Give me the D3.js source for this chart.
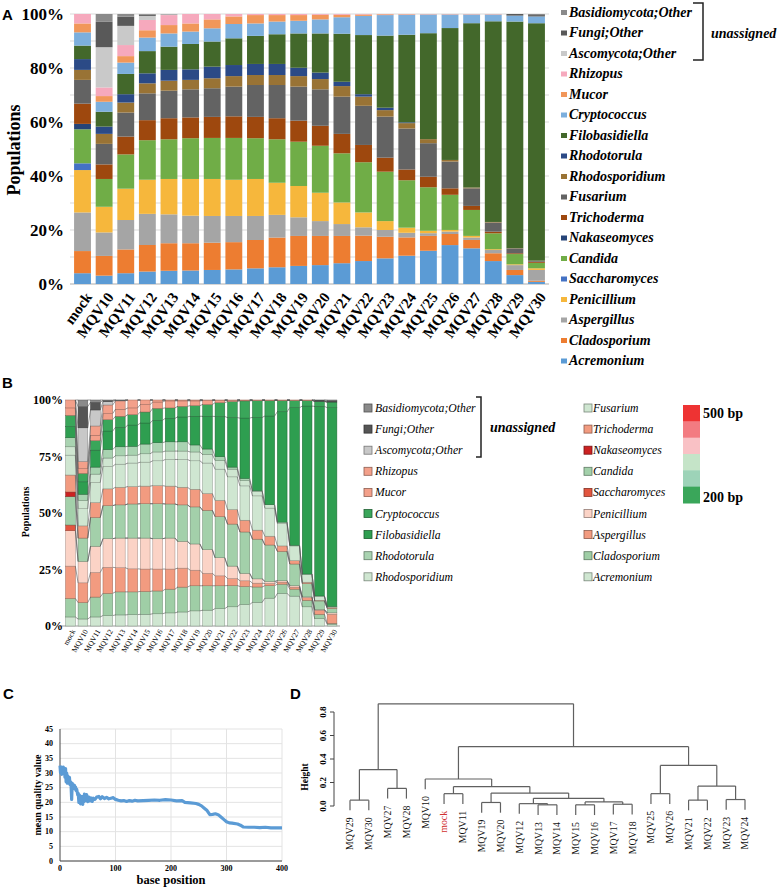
<!DOCTYPE html>
<html><head><meta charset="utf-8">
<script src="https://cdn.jsdelivr.net/npm/d3@7"></script>
<style>body{margin:0;background:#fff}svg{display:block}</style>
</head><body><svg id="c" width="779" height="889"></svg>
<script>
// ---------- DATA ----------
const samples = ["mock","MQV10","MQV11","MQV12","MQV13","MQV14","MQV15","MQV16","MQV17","MQV18","MQV19","MQV20","MQV21","MQV22","MQV23","MQV24","MQV25","MQV26","MQV27","MQV28","MQV29","MQV30"];
const taxa = ["Acremonium","Cladosporium","Aspergillus","Penicillium","Saccharomyces","Candida","Nakaseomyces","Trichoderma","Fusarium","Rhodosporidium","Rhodotorula","Filobasidiella","Cryptococcus","Mucor","Rhizopus","Ascomycota;Other","Fungi;Other","Basidiomycota;Other"];
const acremonium     = [4.0,3.1,4.0,4.6,4.9,5.0,5.2,5.4,5.8,6.2,6.7,7.0,7.7,8.5,9.5,10.5,12.3,14.4,13.2,8.5,3.3,0.8];
const cladosporium   = [8.2,7.3,8.8,9.8,10.2,10.1,10.1,10.1,10.5,11.0,11.1,10.8,10.1,9.4,8.0,6.8,5.5,4.1,3.1,2.9,1.9,0.4];
const aspergillus    = [14.3,8.7,10.9,11.5,10.7,10.2,9.9,9.7,8.9,8.4,6.9,5.5,4.4,3.1,2.5,1.7,1.0,0.9,0.9,1.2,1.8,4.0];
const penicillium    = [15.7,9.5,11.6,12.6,13.1,13.6,13.7,13.4,13.7,11.9,11.6,10.5,8.0,5.5,3.3,1.9,0.9,0.6,0.6,0.3,0.3,0.6];
const saccharomyces  = [2.5,0,0,0,0,0,0,0,0,0,0,0,0,0,0,0,0,0,0,0,0,0];
const candida        = [12.6,10.3,12.7,14.6,14.7,15.1,15.2,15.5,15.1,16.1,16.4,17.4,18.2,18.6,18.3,17.6,16.1,13.0,9.6,5.9,3.8,2.0];
const nakaseomyces   = [2.0,0,0,0,0,0,0,0,0,0,0,0,0,0,0,0,0,0,0,0,0,0];
const trichoderma    = [7.5,5.4,6.6,7.4,7.8,7.7,7.8,8.0,7.9,7.8,7.8,7.4,7.2,6.4,5.2,4.0,3.9,2.4,1.5,0.6,0.3,0.4];
const fusarium       = [8.8,7.6,8.9,9.9,10.2,10.4,10.6,11.0,11.8,12.3,12.6,13.5,13.8,14.5,15.2,15.2,12.4,9.9,6.5,3.4,1.8,0.3];
const rhodosporidium = [3.7,3.7,3.7,3.7,3.7,3.5,3.7,3.9,3.7,3.7,3.9,3.8,3.9,3.4,2.4,2.0,1.5,0.6,0.3,0.2,0.1,0.1];
const rhodotorula    = [4.0,2.7,3.1,3.7,4.0,3.9,4.3,4.1,4.1,4.1,3.1,2.4,1.6,0.9,0.9,0.3,0,0,0,0,0,0];
const filobasidiella = [5.0,5.5,7.5,8.2,8.6,9.4,9.3,9.9,10.4,11.0,12.7,14.5,17.8,21.9,26.7,32.5,39.2,48.8,60.8,74.4,84.0,87.5];
const cryptococcus   = [4.9,3.7,4.2,5.0,4.9,4.6,4.9,5.3,4.6,4.7,4.7,5.2,6.1,7.1,7.6,7.4,6.9,5.0,3.2,2.5,2.2,2.5];
const mucor          = [3.3,2.1,2.4,2.7,3.1,3.0,3.3,2.8,3.1,2.4,2.1,1.7,0.9,0.5,0.3,0.2,0.1,0.1,0.1,0.1,0,0];
const rhizopus       = [3.5,3.2,4.1,3.8,3.7,3.5,2.0,0.9,0.4,0.4,0.4,0.3,0.3,0.2,0.1,0.1,0.1,0.1,0.1,0.1,0,0];
const ascomycotaOther    = [0,14.9,7.1,1.5,0.3,0,0,0,0,0,0,0,0,0,0,0,0,0,0,0,0,0];
const fungiOther         = [0,9.4,3.4,0.5,0.1,0,0,0,0,0,0,0,0,0,0,0,0,0,0,0,0.6,0.5];
const basidiomycotaOther = [0,2.9,1.0,0.2,0,0,0,0,0,0,0,0,0,0,0,0,0,0,0,0,0,0.4];
const seriesValues = [acremonium,cladosporium,aspergillus,penicillium,saccharomyces,candida,nakaseomyces,trichoderma,fusarium,rhodosporidium,rhodotorula,filobasidiella,cryptococcus,mucor,rhizopus,ascomycotaOther,fungiOther,basidiomycotaOther];

const colorsA = ["#5b9bd5","#ed7d31","#a5a5a5","#f6b73c","#4472c4","#70ad47","#264478","#9e480e","#636363","#997335","#2b4a86","#43682b","#7cafdd","#f1975a","#f6a9bd","#c9c9c9","#595959","#8a8a8a"];
const colorsB = ["#cfe6d1","#9fcea6","#f29b80","#fbd3c6","#e2553f","#a3d0aa","#cc2222","#f29b80","#cfe6d1","#cfe6d1","#a9d3b1","#2e9e50","#3aa65a","#f3a08a","#f3a08a","#c8c8c8","#555555","#8a8a8a"];
const scaleColors = ["#ee3333","#f37b81","#f9c1c5","#c5e4c8","#9dd3b8","#3aa65a"];
const scaleLabels = ["500 bp","200 bp"];

const yTicksA = [0,0.2,0.4,0.6,0.8,1.0];
const yTicksB = [0,0.25,0.5,0.75,1.0];

// Panel C: mean quality by base position
const qPos = [0,1,2,3,4,5,6,7,8,9,10,11,12,13,14,15,16,17,18,19,20,21,22,23,24,25,26,27,28,29,30,31,32,33,34,35,36,37,38,39,40,41,42,43,44,45,46,47,48,49,50,52,54,56,58,60,63,66,70,73,76,80,84,88,92,96,100,105,110,115,120,125,130,135,140,150,160,170,180,190,200,210,220,225,235,245,250,255,260,265,270,275,280,285,290,295,300,305,310,320,325,330,340,350,360,370,380,390,400];
const qVal = [32.5,30,32,29.5,31.5,30.5,32,29.8,31,28.5,31.5,27,30,26.5,29,27.5,26.5,28.5,26,27,25.5,21,26.5,25.5,26,25,25.8,24.5,25.2,24,24.5,23.5,22.5,23,20,22.5,21.5,19.5,22,20.5,21.5,19.3,22,20.2,22.8,20.5,22.5,21,22.6,21.3,20.2,21.8,20.5,21.5,20.3,21.4,21,21.8,22,21.2,21.9,21.3,21.7,21.2,21.4,21.6,21,20.7,20.5,20.6,20.3,20.6,20.4,20.7,20.5,20.6,20.7,20.8,20.7,20.9,20.8,20.5,20.6,20.0,19.8,19.6,19.3,18.8,18.0,17.2,15.8,15.9,16.1,15.8,15.0,14.2,13.4,13.0,12.9,12.6,12.2,11.6,11.5,11.5,11.4,11.5,11.3,11.3,11.3];
const qXTicks = [0,100,200,300,400];
const qYTicks = [0,5,10,15,20,25,30,35,40,45];

// Panel D: dendrogram (merge heights)
const tree = {h:0.87, children:[
  {h:0.31, children:[{h:0.05, children:[{name:"MQV29"},{name:"MQV30"}]},{h:0.15, children:[{name:"MQV27"},{name:"MQV28"}]}]},
  {h:0.505, children:[
    {h:0.23, children:[{name:"MQV10"},
      {h:0.165, children:[
        {h:0.105, children:[{name:"mock"},{name:"MQV11"}]},
        {h:0.11, children:[
          {h:0.03, children:[{name:"MQV19"},{name:"MQV20"}]},
          {h:0.065, children:[
            {h:0.02, children:[{name:"MQV12"},{h:0.01, children:[{name:"MQV13"},{name:"MQV14"}]}]},
            {h:0.035, children:[{h:0.01, children:[{name:"MQV15"},{name:"MQV16"}]},{h:0.015, children:[{name:"MQV17"},{name:"MQV18"}]}]}
          ]}
        ]}
      ]}
    ]},
    {h:0.345, children:[
      {h:0.105, children:[{name:"MQV25"},{name:"MQV26"}]},
      {h:0.17, children:[{h:0.05, children:[{name:"MQV21"},{name:"MQV22"}]},{h:0.055, children:[{name:"MQV23"},{name:"MQV24"}]}]}
    ]}
  ]}
]};
const dTicks = [0,0.2,0.4,0.6,0.8];
const hang = 0.087;

// ---------- BUILD ----------
const rows = samples.map((s,i)=>{const r={sample:s}; taxa.forEach((t,j)=>r[t]=seriesValues[j][i]); return r;});
const stacked = d3.stack().keys(taxa).offset(d3.stackOffsetExpand)(rows);

const svg = d3.select("#c");
svg.append("rect").attr("width",779).attr("height",889).attr("fill","#fff");
const SERIF = "'Liberation Serif','Times New Roman',serif";
const SANS = "'Liberation Sans',Arial,sans-serif";

function panelLetter(t,x,y){svg.append("text").attr("x",x).attr("y",y).attr("font-family",SANS).attr("font-weight","bold").attr("font-size",15).text(t);}

// ---------- PANEL A ----------
{
  const x = d3.scaleBand().domain(samples).range([71.7,547.3]).paddingInner(0.22).paddingOuter(0.11);
  const y = d3.scaleLinear().domain([0,1]).range([284,14]);
  const g = svg.append("g");
  g.selectAll("line.grid").data(y.ticks(10)).join("line")
    .attr("x1",70).attr("x2",549).attr("y1",d=>y(d)).attr("y2",d=>y(d))
    .attr("stroke","#d9d9d9").attr("stroke-width",1);
  g.append("line").attr("x1",70).attr("x2",549).attr("y1",y(0)).attr("y2",y(0)).attr("stroke","#bfbfbf");
  stacked.forEach((layer,j)=>{
    g.append("g").attr("fill",colorsA[j]).selectAll("rect").data(layer).join("rect")
      .attr("x",d=>x(d.data.sample)).attr("width",x.bandwidth())
      .attr("y",d=>y(d[1])).attr("height",d=>Math.max(0,y(d[0])-y(d[1])));
  });
  g.selectAll("text.yt").data(yTicksA).join("text")
    .attr("x",64).attr("y",d=>y(d)).attr("dy","0.35em").attr("text-anchor","end")
    .attr("font-family",SERIF).attr("font-weight","bold").attr("font-size",17)
    .text(d=>d3.format(".0%")(d));
  g.append("text").attr("transform","translate(20,150) rotate(-90)").attr("text-anchor","middle")
    .attr("font-family",SERIF).attr("font-weight","bold").attr("font-size",18).text("Populations");
  g.selectAll("text.xl").data(samples).join("text")
    .attr("transform",d=>`translate(${x(d)+x.bandwidth()/2+6},${294}) rotate(-54)`)
    .attr("text-anchor","end").attr("dy","0.35em")
    .attr("font-family",SERIF).attr("font-weight","bold").attr("font-size",15).text(d=>d);
  // legend
  const leg = g.append("g");
  const order = taxa.slice().reverse();
  order.forEach((t,i)=>{
    const yy = 12 + i*20.5;
    leg.append("rect").attr("x",561).attr("y",yy-2).attr("width",6).attr("height",5).attr("fill",colorsA[taxa.indexOf(t)]);
    leg.append("text").attr("x",569).attr("y",yy).attr("dy","0.35em")
      .attr("font-family",SERIF).attr("font-weight","bold").attr("font-style","italic").attr("font-size",14).text(t);
  });
  leg.append("path").attr("d","M693,3H703V60H693").attr("fill","none").attr("stroke","#222").attr("stroke-width",1.5);
  leg.append("text").attr("x",711).attr("y",33).attr("dy","0.35em")
    .attr("font-family",SERIF).attr("font-weight","bold").attr("font-style","italic").attr("font-size",14).text("unassigned");
  panelLetter("A",2,20);
}

// ---------- PANEL B ----------
{
  const x = d3.scaleBand().domain(samples).range([64.25,338.25]).paddingInner(0.22).paddingOuter(0.11);
  const y = d3.scaleLinear().domain([0,1]).range([626,400]);
  const g = svg.append("g");
  g.append("line").attr("x1",60).attr("x2",340).attr("y1",y(0)).attr("y2",y(0)).attr("stroke","#999");
  stacked.forEach((layer,j)=>{
    const c = colorsB[j];
    g.append("g").attr("fill",c).attr("stroke",d3.color(c).darker(1.2)).attr("stroke-width",0.5)
      .selectAll("rect").data(layer.filter(d=>d[1]-d[0]>0.0005)).join("rect")
      .attr("x",d=>x(d.data.sample)).attr("width",x.bandwidth())
      .attr("y",d=>y(d[1])).attr("height",d=>Math.max(0,y(d[0])-y(d[1])));
  });
  // series connector lines
  stacked.forEach(layer=>{
    for(let i=0;i<layer.length-1;i++){
      const a=layer[i], b=layer[i+1];
      g.append("line").attr("x1",x(a.data.sample)+x.bandwidth()).attr("y1",y(a[1]))
        .attr("x2",x(b.data.sample)).attr("y2",y(b[1])).attr("stroke","#555").attr("stroke-width",0.6);
    }
  });
  g.selectAll("text.yt").data(yTicksB).join("text")
    .attr("x",63).attr("y",d=>y(d)).attr("dy","0.35em").attr("text-anchor","end")
    .attr("font-family",SERIF).attr("font-weight","bold").attr("font-size",12)
    .text(d=>d3.format(".0%")(d));
  g.append("text").attr("transform","translate(29,512) rotate(-90)").attr("text-anchor","middle")
    .attr("font-family",SERIF).attr("font-weight","bold").attr("font-size",10).text("Populations");
  g.selectAll("text.xl").data(samples).join("text")
    .attr("transform",d=>`translate(${x(d)+x.bandwidth()/2+3},${630}) rotate(-60)`)
    .attr("text-anchor","end").attr("dy","0.35em")
    .attr("font-family",SERIF).attr("font-size",7.5).text(d=>d);
  const order = taxa.slice().reverse();
  order.forEach((t,i)=>{
    const col = i<9?0:1, r = i%9;
    const yy = 408 + r*21.1;
    const mx = col? 584:364, tx = col?593:375;
    const c = colorsB[taxa.indexOf(t)];
    g.append("rect").attr("x",mx).attr("y",yy-4).attr("width",8).attr("height",8).attr("fill",c).attr("stroke",d3.color(c).darker(1.5)).attr("stroke-width",0.8);
    g.append("text").attr("x",tx).attr("y",yy).attr("dy","0.35em")
      .attr("font-family",SERIF).attr("font-style","italic").attr("font-size",11.7).text(t);
  });
  g.append("path").attr("d","M476,397H481V457H476").attr("fill","none").attr("stroke","#222").attr("stroke-width",1.5);
  g.append("text").attr("x",490).attr("y",427).attr("dy","0.35em")
    .attr("font-family",SERIF).attr("font-weight","bold").attr("font-style","italic").attr("font-size",14).text("unassigned");
  const cy = d3.scaleBand().domain(d3.range(scaleColors.length)).range([405,503]);
  g.selectAll("rect.sc").data(scaleColors).join("rect")
    .attr("x",683).attr("width",17).attr("y",(d,i)=>cy(i)).attr("height",cy.bandwidth()+0.5).attr("fill",d=>d);
  g.append("text").attr("x",703).attr("y",413).attr("dy","0.35em").attr("font-family",SERIF).attr("font-weight","bold").attr("font-size",14).text(scaleLabels[0]);
  g.append("text").attr("x",703).attr("y",497).attr("dy","0.35em").attr("font-family",SERIF).attr("font-weight","bold").attr("font-size",14).text(scaleLabels[1]);
  panelLetter("B",2,388);
}

// ---------- PANEL C ----------
{
  const x = d3.scaleLinear().domain([0,400]).range([60,282]);
  const y = d3.scaleLinear().domain([0,45]).range([861,729]);
  const g = svg.append("g");
  g.selectAll("line.hg").data(qYTicks).join("line").attr("x1",60).attr("x2",282).attr("y1",d=>y(d)).attr("y2",d=>y(d)).attr("stroke","#e3e3e3");
  g.selectAll("line.vg").data(qXTicks.slice(1)).join("line").attr("y1",729).attr("y2",861).attr("x1",d=>x(d)).attr("x2",d=>x(d)).attr("stroke","#e3e3e3");
  g.append("line").attr("x1",60).attr("x2",282).attr("y1",861).attr("y2",861).attr("stroke","#444").attr("stroke-width",1);
  g.append("line").attr("x1",60).attr("x2",60).attr("y1",729).attr("y2",861).attr("stroke","#444").attr("stroke-width",1);
  const line = d3.line().x((d,i)=>x(qPos[i])).y(d=>y(d));
  g.append("path").attr("d",line(qVal)).attr("fill","none").attr("stroke","#5b9bd5").attr("stroke-width",3.2).attr("stroke-linejoin","round");
  g.selectAll("text.yt").data(qYTicks).join("text").attr("x",53).attr("y",d=>y(d)).attr("dy","0.35em").attr("text-anchor","end")
    .attr("font-family",SERIF).attr("font-weight","bold").attr("font-size",8).text(d=>d);
  g.selectAll("text.xt").data(qXTicks).join("text").attr("x",d=>x(d)).attr("y",871).attr("text-anchor","middle")
    .attr("font-family",SERIF).attr("font-weight","bold").attr("font-size",8).text(d=>d);
  g.append("text").attr("x",171).attr("y",884).attr("text-anchor","middle").attr("font-family",SERIF).attr("font-weight","bold").attr("font-size",12.5).text("base position");
  g.append("text").attr("transform","translate(41,795) rotate(-90)").attr("text-anchor","middle").attr("font-family",SERIF).attr("font-weight","bold").attr("font-size",10).text("mean quality value");
  panelLetter("C",3,699);
}

// ---------- PANEL D ----------
{
  const root = d3.hierarchy(tree);
  const leaves = root.leaves();
  const x = d3.scalePoint().domain(leaves.map(d=>d.data.name)).range([350,745]);
  const y = d3.scaleLinear().domain([0,0.8]).range([806,712]);
  root.eachAfter(n=>{ n.px = n.children ? d3.mean(n.children,c=>c.px) : x(n.data.name); });
  const g = svg.append("g");
  const stroke="#606060";
  root.each(n=>{
    if(n.children){
      g.append("line").attr("x1",n.children[0].px).attr("x2",n.children[n.children.length-1].px)
        .attr("y1",y(n.data.h)).attr("y2",y(n.data.h)).attr("stroke",stroke).attr("stroke-width",1.2);
      n.children.forEach(c=>{
        const bottom = c.children ? c.data.h : n.data.h - hang;
        g.append("line").attr("x1",c.px).attr("x2",c.px).attr("y1",y(n.data.h)).attr("y2",y(bottom)).attr("stroke",stroke).attr("stroke-width",1.2);
        if(!c.children){
          g.append("text").attr("transform",`translate(${c.px},${y(bottom)+7}) rotate(-90)`)
            .attr("text-anchor","end").attr("dy","0.35em").attr("font-family",SERIF).attr("font-size",9.8)
            .attr("fill",c.data.name==="mock"?"#d03030":"#111").text(c.data.name);
        }
      });
    }
  });
  g.append("line").attr("x1",334).attr("x2",334).attr("y1",y(0)).attr("y2",y(0.8)).attr("stroke","#444");
  g.selectAll("line.tk").data(dTicks).join("line").attr("x1",330).attr("x2",334).attr("y1",d=>y(d)).attr("y2",d=>y(d)).attr("stroke","#444");
  g.selectAll("text.tk").data(dTicks).join("text").attr("transform",d=>`translate(326,${y(d)}) rotate(-90)`)
    .attr("text-anchor","middle").attr("font-family",SERIF).attr("font-weight","bold").attr("font-size",9).text(d=>d.toFixed(1));
  g.append("text").attr("transform","translate(308,777) rotate(-90)").attr("text-anchor","middle").attr("font-family",SERIF).attr("font-weight","bold").attr("font-size",9.5).text("Height");
  panelLetter("D",290,699);
}
</script></body></html>
